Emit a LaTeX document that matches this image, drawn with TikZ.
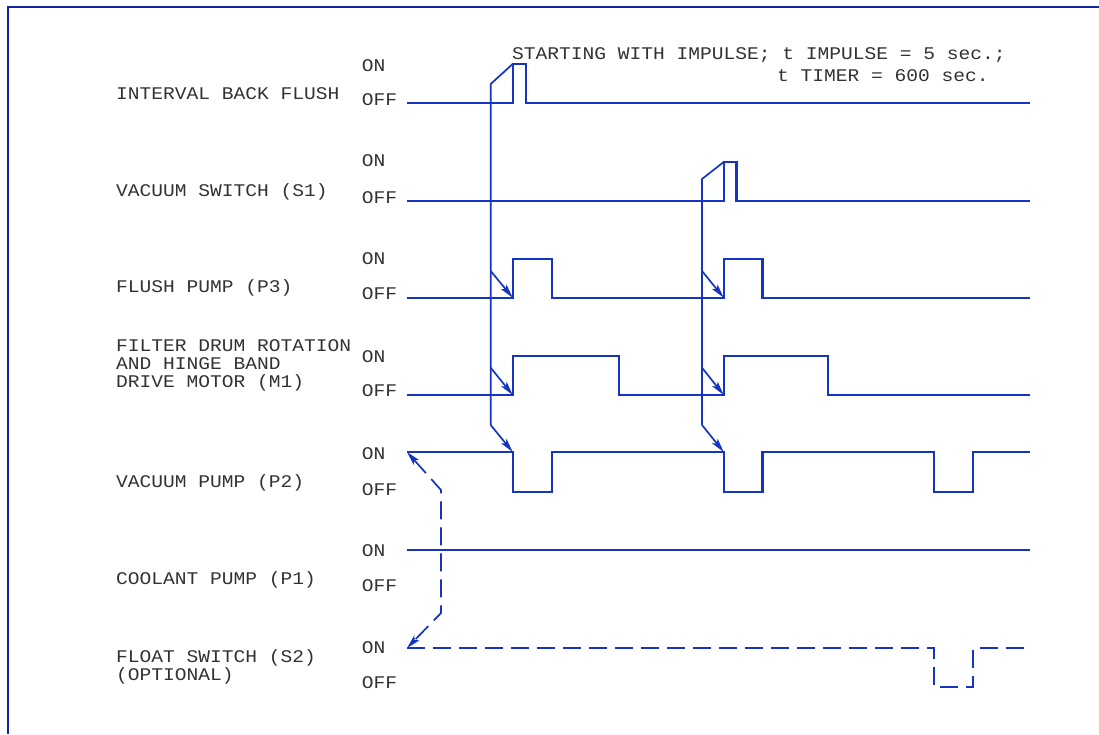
\documentclass[tikz,border=0pt]{standalone}
\usepackage{fontspec}
\newfontfamily\cadfont[FakeStretch=1.1]{Liberation Mono}
\usetikzlibrary{arrows.meta}
\definecolor{sig}{RGB}{22,52,196}
\definecolor{frame}{RGB}{20,36,160}
\definecolor{txtc}{RGB}{50,50,50}
\tikzset{
  lbl/.style={font=\cadfont\fontsize{17.8}{20}\selectfont, text=txtc, anchor=base west, inner sep=0pt},
  wave/.style={draw=sig, line width=2.1pt, line join=miter},
  conn/.style={draw=sig, line width=1.7pt},
  tip/.tip={Stealth[length=14pt,width=7pt,inset=3pt]},
  arr/.style={conn, -tip},
  dashwave/.style={wave, dash pattern=on 18pt off 8pt},
}
\begin{document}
\begin{tikzpicture}[x=1pt,y=-1pt]
\useasboundingbox (0,0) rectangle (1099,734);
% frame
\draw[frame, line width=2.2pt] (8.3,734) -- (8.3,6.7) -- (1099,6.7);

% labels
\node[lbl] (l1) at (116,99) {INTERVAL BACK FLUSH};
\node[lbl] (l2) at (116,196) {VACUUM SWITCH (S1)};
\node[lbl] (l3) at (116,292) {FLUSH PUMP (P3)};
\node[lbl] (l4a) at (116,351) {FILTER DRUM ROTATION};
\node[lbl] (l4b) at (116,369) {AND HINGE BAND};
\node[lbl] (l4c) at (116,387) {DRIVE MOTOR (M1)};
\node[lbl] (l5) at (116,487) {VACUUM PUMP (P2)};
\node[lbl] (l6) at (116,584) {COOLANT PUMP (P1)};
\node[lbl] (l7a) at (116,662) {FLOAT SWITCH (S2)};
\node[lbl] (l7b) at (116,680) {(OPTIONAL)};

% ON / OFF
\foreach \n/\on/\off in {1/71/105, 2/166/203, 3/264/299, 4/362/396, 5/459/495, 6/556/591, 7/653/688}{
  \node[lbl] (on\n) at (361.7,\on) {ON};
  \node[lbl] (off\n) at (361.7,\off) {OFF};
}

% note
\node[lbl] (note1) at (512,59) {STARTING WITH IMPULSE; t IMPULSE = 5 sec.;};
\node[lbl] (note2) at (777,81) {t TIMER = 600 sec.};

% key coordinates
\coordinate (ibfTop) at (512.7,64);
\coordinate (vsTop) at (723.7,162);
\coordinate (aK) at (490.7,84);
\coordinate (aB) at (490.7,425);
\coordinate (a3) at (490.7,271);
\coordinate (a4) at (490.7,367.7);
\coordinate (bK) at (702,179);
\coordinate (bB) at (702,425);
\coordinate (b3) at (702,271);
\coordinate (b4) at (702,367.7);
\coordinate (fp1) at (512.7,297.7);
\coordinate (fp2) at (723.7,297.7);
\coordinate (fd1) at (512.7,395);
\coordinate (fd2) at (723.7,395);
\coordinate (vp1) at (512.7,452);
\coordinate (vp2) at (723.7,452);
\coordinate (vpS) at (407,452);
\coordinate (fsS) at (407,648);
\coordinate (dT) at (441,490);
\coordinate (dB) at (441,613);

% waveforms
\draw[wave] (407,103) -- (512.7,103) -- (ibfTop) -- (525.7,64) -- (525.7,103) -- (1030,103);
\draw[wave] (407,200.6) -- (723.7,200.6) -- (vsTop) -- (736.5,162) -- (736.5,200.6) -- (1030,200.6);
\draw[wave] (407,297.7) -- (fp1) -- (512.7,259) -- (552,259) -- (552,297.7) -- (fp2) -- (723.7,259) -- (762.5,259) -- (762.5,297.7) -- (1030,297.7);
\draw[wave] (407,395) -- (fd1) -- (512.7,356) -- (619,356) -- (619,395) -- (fd2) -- (723.7,356) -- (828,356) -- (828,395) -- (1030,395);
\draw[wave] (vpS) -- (vp1) -- (512.7,491.7) -- (552,491.7) -- (552,452) -- (vp2) -- (723.7,491.7) -- (762.5,491.7) -- (762.5,452) -- (934.3,452) -- (934.3,491.7) -- (973.3,491.7) -- (973.3,452) -- (1030,452);
\draw[wave] (407,550) -- (1030,550);
\draw[dashwave] (fsS) -- (934.3,648) -- (934.3,686.7) -- (973.3,686.7) -- (973.3,648) -- (1029,648);

% connectors
\draw[conn] (ibfTop) -- (aK) -- (aB);
\draw[arr] (aB) -- (vp1);
\draw[arr] (a3) -- (fp1);
\draw[arr] (a4) -- (fd1);
\draw[conn] (vsTop) -- (bK) -- (bB);
\draw[arr] (bB) -- (vp2);
\draw[arr] (b3) -- (fp2);
\draw[arr] (b4) -- (fd2);
\draw[conn, dash pattern=on 18pt off 8pt, tip-tip] (vpS) -- (dT) -- (dB) -- (fsS);
\end{tikzpicture}
\end{document}
